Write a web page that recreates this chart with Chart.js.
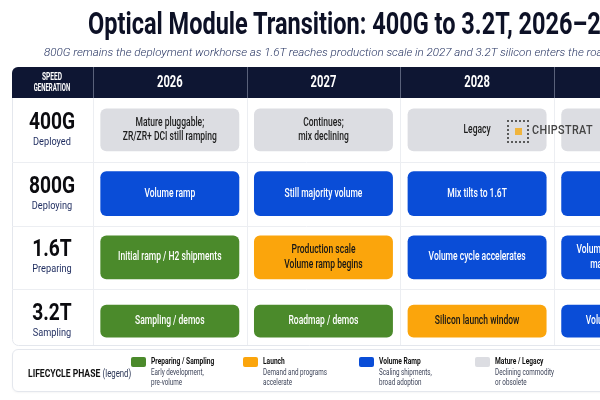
<!DOCTYPE html>
<html>
<head>
<meta charset="utf-8">
<title>Optical Module Transition</title>
<style>
html, body { margin: 0; padding: 0; background: #fff; }
body { width: 600px; height: 400px; overflow: hidden; position: relative; font-family: Roboto, "Noto Sans", sans-serif; }
#chart { position: absolute; left: 0; top: 0; }
.title { position: absolute; left: 88px; top: 5px; white-space: nowrap; font-weight: 700; font-size: 32px; line-height: 36px; color: #0d1126; transform: scaleX(0.735); transform-origin: left top; }
.subtitle { position: absolute; left: 44px; top: 45px; white-space: nowrap; font-style: italic; font-weight: 300; font-size: 11.6px; line-height: 14px; color: #263462; }
.mark { position: absolute; left: 507px; top: 120px; height: 23px; }
.mark .icon { position: absolute; left: 0; top: 0; width: 18px; height: 19px; border: 2px dotted #5a5a5a; }
.mark .icon i { position: absolute; left: 6px; top: 6px; width: 7px; height: 7px; background: #f0b43c; }
.mark .name { position: absolute; left: 25px; top: 3px; font-size: 12px; font-weight: 500; letter-spacing: 0.4px; color: #444; white-space: nowrap; transform: scaleX(0.9); transform-origin: left top; }
#legend { position: absolute; left: 12px; top: 349px; width: 620px; height: 41px; border: 1px solid #e4e7ed; border-radius: 6px; background: #fff; box-shadow: 0 1px 2px rgba(0,0,0,0.04); }
#legend .lt { position: absolute; left: 15px; top: 12px; white-space: nowrap; transform: scaleX(0.78); transform-origin: left top; }
#legend .lt b { font-size: 11px; color: #111; }
#legend .lt span { font-size: 10px; color: #2a3555; margin-left: 3px; }
#legend .item { position: absolute; top: 6px; white-space: nowrap; }
#legend .sw { position: absolute; left: 0; top: 1px; width: 15px; height: 10px; border-radius: 2px; }
#legend .txt { position: absolute; left: 20px; top: 0; transform: scaleX(0.7); transform-origin: left top; line-height: 10px; }
#legend .txt b { display: block; font-size: 9.5px; color: #111; margin-bottom: 1px; }
#legend .txt div { font-size: 9px; color: #3c4358; }
</style>
</head>
<body>
<canvas id="chart" width="600" height="400"></canvas>
<div class="title">Optical Module Transition: 400G to 3.2T, 2026–2030</div>
<div class="subtitle">800G remains the deployment workhorse as 1.6T reaches production scale in 2027 and 3.2T silicon enters the roadmap</div>
<div class="mark"><div class="icon"><i></i></div><div class="name">CHIPSTRAT</div></div>
<div id="legend"><div class="lt"><b>LIFECYCLE PHASE</b><span>(legend)</span></div></div>

<script src="https://cdn.jsdelivr.net/npm/chart.js"></script>
<script>
// --- data ---
const years = [2026, 2027, 2028, 2029];
const generations = ['400G', '800G', '1.6T', '3.2T'];
const statuses = ['Deployed', 'Deploying', 'Preparing', 'Sampling'];

// lifecycle phase of each cell, one list per speed generation
const phases400 = ['mature', 'mature', 'mature', 'mature'];
const phases800 = ['volume', 'volume', 'volume', 'volume'];
const phases16 = ['prep', 'launch', 'volume', 'volume'];
const phases32 = ['prep', 'prep', 'launch', 'volume'];

const notes400 = ['Mature pluggable;\nZR/ZR+ DCI still ramping', 'Continues;\nmix declining', 'Legacy', 'Legacy'];
const notes800 = ['Volume ramp', 'Still majority volume', 'Mix tilts to 1.6T', 'Declining'];
const notes16 = ['Initial ramp / H2 shipments', 'Production scale\nVolume ramp begins', 'Volume cycle accelerates', 'Volume leader for AI fabrics;\nmajority of new ports'];
const notes32 = ['Sampling / demos', 'Roadmap / demos', 'Silicon launch window', 'Volume ramp underway'];

const phaseKeys = ['prep', 'launch', 'volume', 'mature'];
const phaseNames = ['Preparing / Sampling', 'Launch', 'Volume Ramp', 'Mature / Legacy'];
const phaseDescs = [
  ['Early development,', 'pre-volume'],
  ['Demand and programs', 'accelerate'],
  ['Scaling shipments,', 'broad adoption'],
  ['Declining commodity', 'or obsolete']
];

// --- styles ---
const phaseColors = { prep: '#4b8a2b', launch: '#fba50c', volume: '#0a4dd7', mature: '#dcdde2' };
const phaseInk = { prep: '#ffffff', launch: '#161616', volume: '#ffffff', mature: '#1c1c1c' };
const rowBarHeights = [42, 44, 43, 32];
const legendLeft = [118, 230, 346, 462];

const rowPhases = [phases400, phases800, phases16, phases32];
const rowNotes = [notes400, notes800, notes16, notes32];

// condensed-looking text: regular font squeezed horizontally
function squeezed(ctx, str, cx, cy, font, color, sx) {
  ctx.save();
  ctx.font = font;
  ctx.fillStyle = color;
  ctx.textAlign = 'center';
  ctx.textBaseline = 'middle';
  ctx.translate(cx, cy);
  ctx.scale(sx, 1);
  ctx.fillText(str, 0, 0);
  ctx.restore();
}

const tablePlugin = {
  id: 'table',
  beforeDatasetsDraw(chart) {
    const { ctx, chartArea: a, scales: { x, y } } = chart;
    const rowH = y.getPixelForValue(1) - y.getPixelForValue(0);
    const left = 12, right = chart.width + 10;
    const headTop = a.top - 31, bottom = a.bottom - 8;
    ctx.save();

    // body outline
    ctx.strokeStyle = '#e4e7ed';
    ctx.lineWidth = 1;
    ctx.beginPath();
    ctx.roundRect(left + 0.5, headTop + 0.5, right - left, bottom - headTop, 6);
    ctx.stroke();

    // header band
    ctx.fillStyle = '#0e1633';
    ctx.beginPath();
    ctx.roundRect(left, headTop, right - left, 31, [6, 6, 0, 0]);
    ctx.fill();

    // column separators
    years.forEach(yr => {
      const px = Math.round(x.getPixelForValue(yr - 0.5)) + 0.5;
      ctx.strokeStyle = '#59617a';
      ctx.beginPath(); ctx.moveTo(px, headTop); ctx.lineTo(px, a.top); ctx.stroke();
      ctx.strokeStyle = '#eceef2';
      ctx.beginPath(); ctx.moveTo(px, a.top); ctx.lineTo(px, bottom); ctx.stroke();
    });

    // row separators
    ctx.strokeStyle = '#eceef2';
    generations.slice(0, -1).forEach((g, i) => {
      const py = Math.round(y.getPixelForValue(i) + rowH / 2) + 0.5;
      ctx.beginPath(); ctx.moveTo(left, py); ctx.lineTo(right, py); ctx.stroke();
    });

    // header labels
    squeezed(ctx, 'SPEED', 52, headTop + 10, '700 10px Roboto', '#ffffff', 0.66);
    squeezed(ctx, 'GENERATION', 52, headTop + 21, '700 10px Roboto', '#ffffff', 0.6);
    years.forEach(yr => {
      squeezed(ctx, String(yr), x.getPixelForValue(yr), headTop + 16, '700 16px Roboto', '#ffffff', 0.7);
    });

    // row labels
    generations.forEach((g, i) => {
      const cy = y.getPixelForValue(i);
      squeezed(ctx, g, 52, cy - 7, '700 24px Roboto', '#0b0b0f', 0.8);
      squeezed(ctx, statuses[i], 52, cy + 12, '400 11.5px Roboto', '#1d2b5e', 0.8);
    });
    ctx.restore();
  },
  afterDatasetsDraw(chart) {
    const { ctx } = chart;
    generations.forEach((g, r) => {
      chart.getDatasetMeta(r).data.forEach((bar, c) => {
        const cx = (bar.x + bar.base) / 2;
        const lines = rowNotes[r][c].split('\n');
        const ink = phaseInk[rowPhases[r][c]];
        lines.forEach((ln, k) => {
          const cy = bar.y + (k - (lines.length - 1) / 2) * 14.5;
          squeezed(ctx, ln, cx, cy, '500 12px Roboto', ink, 0.71);
        });
      });
    });
  }
};

const datasets = generations.map((g, r) => ({
  label: g,
  data: years.map(yr => ({ x: [yr - 0.45, yr + 0.45], y: g })),
  backgroundColor: rowPhases[r].map(p => phaseColors[p]),
  borderRadius: 6,
  borderSkipped: false,
  barThickness: rowBarHeights[r],
  grouped: false
}));

new Chart(document.getElementById('chart'), {
  type: 'bar',
  data: { labels: generations, datasets: datasets },
  options: {
    indexAxis: 'y',
    responsive: false,
    animation: false,
    devicePixelRatio: 1,
    layout: { padding: { left: 93, right: 0, top: 98, bottom: 47 } },
    scales: {
      x: { type: 'linear', min: 2025.5, max: 2028.8, display: false },
      y: { type: 'category', display: false }
    },
    plugins: { legend: { display: false }, tooltip: { enabled: false } }
  },
  plugins: [tablePlugin]
});

// legend built from the phase lists
const legend = document.getElementById('legend');
phaseKeys.forEach((p, i) => {
  const item = document.createElement('div');
  item.className = 'item';
  item.style.left = legendLeft[i] + 'px';
  item.innerHTML = '<div class="sw" style="background:' + phaseColors[p] + '"></div>' +
    '<div class="txt"><b>' + phaseNames[i] + '</b>' +
    phaseDescs[i].map(d => '<div>' + d + '</div>').join('') + '</div>';
  legend.appendChild(item);
});
</script>
</body>
</html>
